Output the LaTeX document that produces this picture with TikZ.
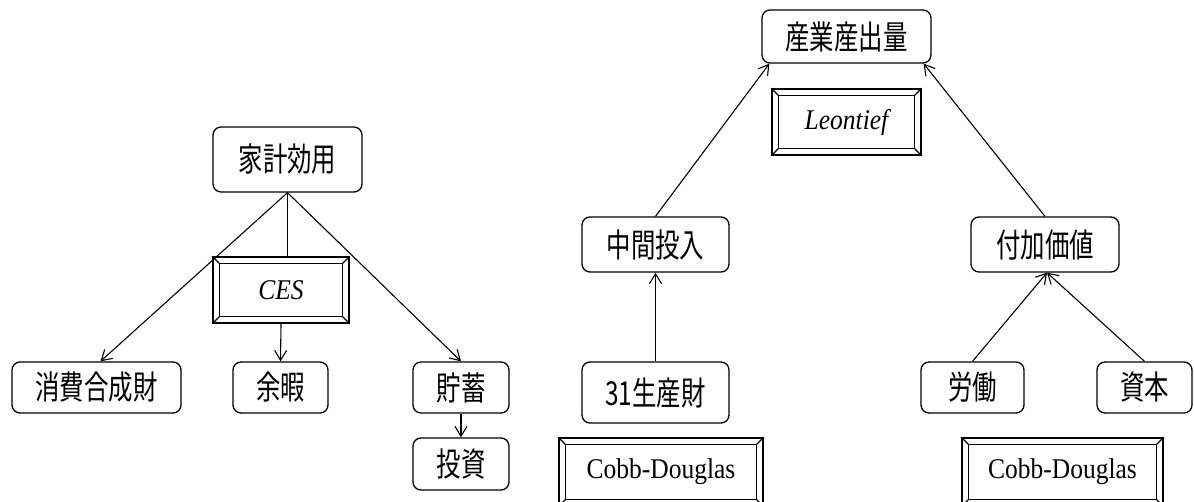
\documentclass[tikz,border=0pt]{standalone}
\usepackage{fontspec}
\usepackage{graphicx}
\setmainfont{Liberation Serif}
\newfontfamily\jp{Noto Sans CJK JP}
\usetikzlibrary{arrows.meta,calc}
\newcommand\jtext[1]{\scalebox{0.74}[1]{\jp\fontsize{33}{36}\selectfont #1}}
\newcommand\ltext[1]{\scalebox{1}[1.12]{\fontsize{25.5}{30}\selectfont #1}}
\newcommand\bevelframe[1]{%
  \draw[innerline] ([shift={(7pt,-7pt)}]#1.north west) rectangle ([shift={(-7pt,7pt)}]#1.south east);
  \draw[innerline] (#1.north west) -- ([shift={(7pt,-7pt)}]#1.north west)
    (#1.north east) -- ([shift={(-7pt,-7pt)}]#1.north east)
    (#1.south west) -- ([shift={(7pt,7pt)}]#1.south west)
    (#1.south east) -- ([shift={(-7pt,7pt)}]#1.south east);}
\begin{document}
\begin{tikzpicture}[x=1pt,y=-1pt,
  rbox/.style={draw, rounded corners=8pt, line width=1.3pt, inner sep=0pt},
  bbox/.style={draw, line width=1.6pt, inner sep=0pt},
  conn/.style={line width=1.1pt},
  arr/.style={conn, -{Straight Barb[length=10pt,width=12pt,line width=1.1pt]}},
  innerline/.style={line width=1.1pt}]
\useasboundingbox (0,0) rectangle (1194,501);
\clip (0,0) rectangle (1194,501);
% left tree
\node[rbox, minimum width=149pt, minimum height=65pt] (hh) at (287.5,159.5) {\jtext{家計効用}};
\node[bbox, minimum width=136pt, minimum height=66pt] (ces) at (281,290) {\ltext{\itshape CES}};
\node[rbox, minimum width=169pt, minimum height=51pt] (cons) at (96.5,387.5) {\jtext{消費合成財}};
\node[rbox, minimum width=95pt, minimum height=51pt] (leis) at (280.5,387.5) {\jtext{余暇}};
\node[rbox, minimum width=96pt, minimum height=51pt] (sav) at (461,387.5) {\jtext{貯蓄}};
\node[rbox, minimum width=96pt, minimum height=52pt] (inv) at (461,464) {\jtext{投資}};
% right tree
\node[rbox, minimum width=169pt, minimum height=53pt] (out) at (846.5,36.5) {\jtext{産業産出量}};
\node[bbox, minimum width=149pt, minimum height=66pt] (leo) at (846.5,122) {\ltext{\itshape Leontief}};
\node[rbox, minimum width=147pt, minimum height=55pt] (mid) at (655.5,244.5) {\jtext{中間投入}};
\node[rbox, minimum width=148pt, minimum height=55pt] (va) at (1045,244.5) {\jtext{付加価値}};
\node[rbox, minimum width=147pt, minimum height=61pt] (g31) at (655.5,392.5) {\jtext{31生産財}};
\node[rbox, minimum width=103pt, minimum height=51pt] (lab) at (972.5,387.5) {\jtext{労働}};
\node[rbox, minimum width=95pt, minimum height=51pt] (cap) at (1144.5,387.5) {\jtext{資本}};
\node[bbox, minimum width=204pt, minimum height=68pt] (cd1) at (661,472) {\ltext{Cobb-Douglas}};
\node[bbox, minimum width=201pt, minimum height=68pt] (cd2) at (1062.5,472) {\ltext{Cobb-Douglas}};
\bevelframe{ces}
\bevelframe{leo}
\bevelframe{cd1}
\bevelframe{cd2}
% connectors
\draw[conn] (hh.south) -- (hh.south |- ces.north);
\draw[arr] (hh.south) -- ([xshift=4pt]cons.north);
\draw[arr] (hh.south) -- (sav.north);
\draw[arr] (ces.south) -- (leis.north);
\draw[arr] (sav.south) -- (inv.north);
\draw[arr] (mid.north) -- ([xshift=8pt]out.south west);
\draw[arr] (va.north) -- ([xshift=-8pt]out.south east);
\draw[arr] (g31.north) -- (mid.south);
\draw[arr] (lab.north) -- ([xshift=2pt]va.south);
\draw[arr] (cap.north) -- ([xshift=2pt]va.south);
\end{tikzpicture}
\end{document}
